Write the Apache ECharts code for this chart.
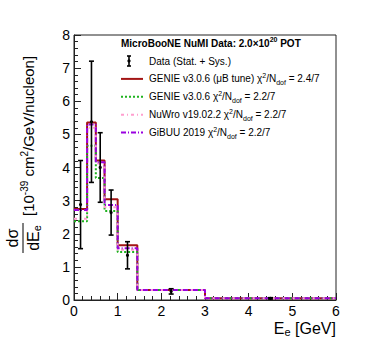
<!DOCTYPE html>
<html><head><meta charset="utf-8">
<script src="https://cdn.jsdelivr.net/npm/echarts@6/dist/echarts.min.js"></script>
<style>html,body{margin:0;padding:0;background:#fff}#c{width:374px;height:355px}</style>
</head><body><div id="c"></div>
<script>
// Bin edges (GeV)
const binEdges = [0, 0.3, 0.5, 0.7, 1.0, 1.45, 3.0, 6.0];
// Model predictions per bin (10^-39 cm^2/GeV/nucleon)
const genieUBTune = [2.75, 5.36, 4.21, 3.04, 1.65, 0.30, 0.05];
const genieV306   = [2.38, 4.66, 3.68, 2.69, 1.45, 0.30, 0.05];
const nuwro       = [2.45, 5.20, 4.12, 2.80, 1.52, 0.30, 0.05];
const gibuu       = [2.72, 5.30, 4.16, 2.87, 1.56, 0.30, 0.05];
// Data points
const dataX   = [0.15, 0.40, 0.60, 0.85, 1.225, 2.225, 4.5];
const dataY   = [2.88, 5.38, 4.00, 2.64, 1.35, 0.26, 0.05];
const dataErr = [1.33, 1.83, 1.05, 0.68, 0.41, 0.08, 0.02];
// Tick labels
const xTicks = [0, 1, 2, 3, 4, 5, 6];
const yTicks = [0, 1, 2, 3, 4, 5, 6, 7, 8];
// Legend texts
const legendTitle = 'MicroBooNE NuMI Data: 2.0×10';
const seriesNames = ['GENIE v3.0.6 (μB tune)', 'GENIE v3.0.6', 'NuWro v19.02.2', 'GiBUU 2019'];
const chi2 = ['2.4/7', '2.2/7', '2.2/7', '2.2/7'];

const FONT = 'Liberation Sans, Arial, Helvetica, sans-serif';
const models = [
  {name: seriesNames[0], vals: genieUBTune, color: '#a31515', type: 'solid', width: 2},
  {name: seriesNames[1], vals: genieV306, color: '#1fb31f', type: [2, 2], width: 2},
  {name: seriesNames[2], vals: nuwro, color: '#ff9fcf', type: [3, 3, 1, 3], width: 2},
  {name: seriesNames[3], vals: gibuu, color: '#9a00e0', type: [5, 2, 1, 2], width: 2}
];
function stepData(vals) {
  const d = binEdges.slice(0, -1).map((e, i) => [e, vals[i]]);
  d.push([binEdges[binEdges.length - 1], vals[vals.length - 1]]);
  return d;
}
const chart = echarts.init(document.getElementById('c'), null, {renderer: 'svg'});
const series = models.map(m => ({
  name: m.name, type: 'line', step: 'end', data: stepData(m.vals),
  showSymbol: false, symbol: 'none', animation: false,
  lineStyle: {color: m.color, width: m.width, type: m.type}
}));
series.push({
  name: 'Data', type: 'custom', animation: false, z: 10,
  data: dataX.map((x, i) => [x, dataY[i], dataErr[i]]),
  renderItem: function (params, api) {
    const x = api.value(0), y = api.value(1), e = api.value(2);
    const top = api.coord([x, y + e]);
    const bot = api.coord([x, y - e]);
    const mid = api.coord([x, y]);
    const cw = 2.5;
    const st = {stroke: '#000', lineWidth: 1.6};
    return {type: 'group', children: [
      {type: 'line', shape: {x1: top[0], y1: top[1], x2: bot[0], y2: bot[1]}, style: st},
      {type: 'line', shape: {x1: top[0] - cw, y1: top[1], x2: top[0] + cw, y2: top[1]}, style: st},
      {type: 'line', shape: {x1: bot[0] - cw, y1: bot[1], x2: bot[0] + cw, y2: bot[1]}, style: st},
      {type: 'circle', shape: {cx: mid[0], cy: mid[1], r: 1.6}, style: {fill: '#000'}}
    ]};
  }
});

// Legend (graphic)
const legX = 121, legY0 = 61, legDy = 17.9;
const rich = {
  t: {fontFamily: FONT, fontSize: 10, color: '#000', lineHeight: 14},
  sup: {fontFamily: FONT, fontSize: 7, color: '#000', verticalAlign: 'top', lineHeight: 14, padding: [0, 0, 5, 0]},
  sub: {fontFamily: FONT, fontSize: 7, color: '#000', verticalAlign: 'bottom', lineHeight: 14, padding: [5, 0, 0, 0]}
};
const graphics = [];
graphics.push({type: 'text', left: 121, top: 36, style: {
  text: '{b|' + legendTitle + '}{bs|20}{b| POT}',
  rich: {
    b: {fontFamily: FONT, fontSize: 10, fontWeight: 'bold', color: '#000', lineHeight: 14},
    bs: {fontFamily: FONT, fontSize: 7, fontWeight: 'bold', color: '#000', verticalAlign: 'top', lineHeight: 14, padding: [0, 0, 5, 0]}
  }}});
// data entry
graphics.push({type: 'group', x: 0, y: 0, children: [
  {type: 'line', shape: {x1: 129, y1: legY0 - 5, x2: 129, y2: legY0 + 5}, style: {stroke: '#000', lineWidth: 1.6}},
  {type: 'line', shape: {x1: 127, y1: legY0 - 5, x2: 131, y2: legY0 - 5}, style: {stroke: '#000', lineWidth: 1.6}},
  {type: 'line', shape: {x1: 127, y1: legY0 + 5, x2: 131, y2: legY0 + 5}, style: {stroke: '#000', lineWidth: 1.6}},
  {type: 'circle', shape: {cx: 129, cy: legY0, r: 1.6}, style: {fill: '#000'}}
]});
graphics.push({type: 'text', x: 149, y: legY0, style: {text: 'Data (Stat. + Sys.)', fontFamily: FONT, fontSize: 10, fill: '#000', verticalAlign: 'middle'}});
models.forEach((m, i) => {
  const y = legY0 + legDy * (i + 1);
  graphics.push({type: 'line', shape: {x1: legX, y1: y, x2: legX + 22, y2: y},
    style: {stroke: m.color, lineWidth: m.width, lineDash: m.type === 'solid' ? null : m.type}});
  graphics.push({type: 'text', x: 149, y: y, style: {
    text: '{t|' + m.name + ' χ}{sup|2}{t|/N}{sub|dof}{t| = ' + chi2[i] + '}',
    rich: rich, verticalAlign: 'middle'}});
});
// Y axis title (rotated)
graphics.push({type: 'group', x: 0, y: 300, rotation: Math.PI / 2, children: [
  {type: 'text', x: 62, y: 12, style: {text: 'dσ', fontFamily: FONT, fontSize: 16, fill: '#000', align: 'center', verticalAlign: 'middle'}},
  {type: 'line', shape: {x1: 47, y1: 23, x2: 77, y2: 23}, style: {stroke: '#000', lineWidth: 1}},
  {type: 'text', x: 62, y: 33, style: {
    text: '{m|dE}{s|e}', align: 'center', verticalAlign: 'middle',
    rich: {m: {fontFamily: FONT, fontSize: 16, color: '#000', lineHeight: 18},
           s: {fontFamily: FONT, fontSize: 11, color: '#000', verticalAlign: 'bottom', lineHeight: 18, padding: [6, 0, 0, 0]}}}},
  {type: 'text', x: 84, y: 28, style: {
    text: '{m|[10}{p|-39}{m| cm}{p|2}{m|/GeV/nucleon]}', align: 'left', verticalAlign: 'middle',
    rich: {m: {fontFamily: FONT, fontSize: 15, color: '#000', lineHeight: 18},
           p: {fontFamily: FONT, fontSize: 10, color: '#000', verticalAlign: 'top', lineHeight: 18, padding: [0, 0, 6, 0]}}}}
]});
// X axis title
graphics.push({type: 'text', right: 38, top: 320, style: {
  text: '{m|E}{s|e}{m| [GeV]}',
  rich: {m: {fontFamily: FONT, fontSize: 16, color: '#000', lineHeight: 18},
         s: {fontFamily: FONT, fontSize: 11, color: '#000', verticalAlign: 'bottom', lineHeight: 18, padding: [6, 0, 0, 0]}}}});

chart.setOption({
  animation: false,
  backgroundColor: '#fff',
  grid: {left: 74, right: 38, top: 35, bottom: 55, show: true, borderColor: '#222', borderWidth: 1, backgroundColor: 'transparent'},
  xAxis: {
    type: 'value', min: xTicks[0], max: xTicks[xTicks.length - 1], interval: 1,
    axisLine: {show: true, lineStyle: {color: '#222', width: 1}},
    axisTick: {show: true, inside: true, length: 7, lineStyle: {color: '#222'}},
    minorTick: {show: true, splitNumber: 5, length: 4, lineStyle: {color: '#222'}},
    splitLine: {show: false},
    axisLabel: {fontFamily: FONT, fontSize: 14, color: '#000', margin: 4,
      formatter: v => xTicks.includes(v) ? String(v) : ''}
  },
  yAxis: {
    type: 'value', min: yTicks[0], max: yTicks[yTicks.length - 1], interval: 1,
    axisLine: {show: true, lineStyle: {color: '#222', width: 1}},
    axisTick: {show: true, inside: true, length: 7, lineStyle: {color: '#222'}},
    minorTick: {show: true, splitNumber: 5, length: 4, lineStyle: {color: '#222'}},
    splitLine: {show: false},
    axisLabel: {fontFamily: FONT, fontSize: 14, color: '#000', margin: 4,
      formatter: v => yTicks.includes(v) ? String(v) : ''}
  },
  series: series,
  graphic: graphics
});
</script></body></html>
